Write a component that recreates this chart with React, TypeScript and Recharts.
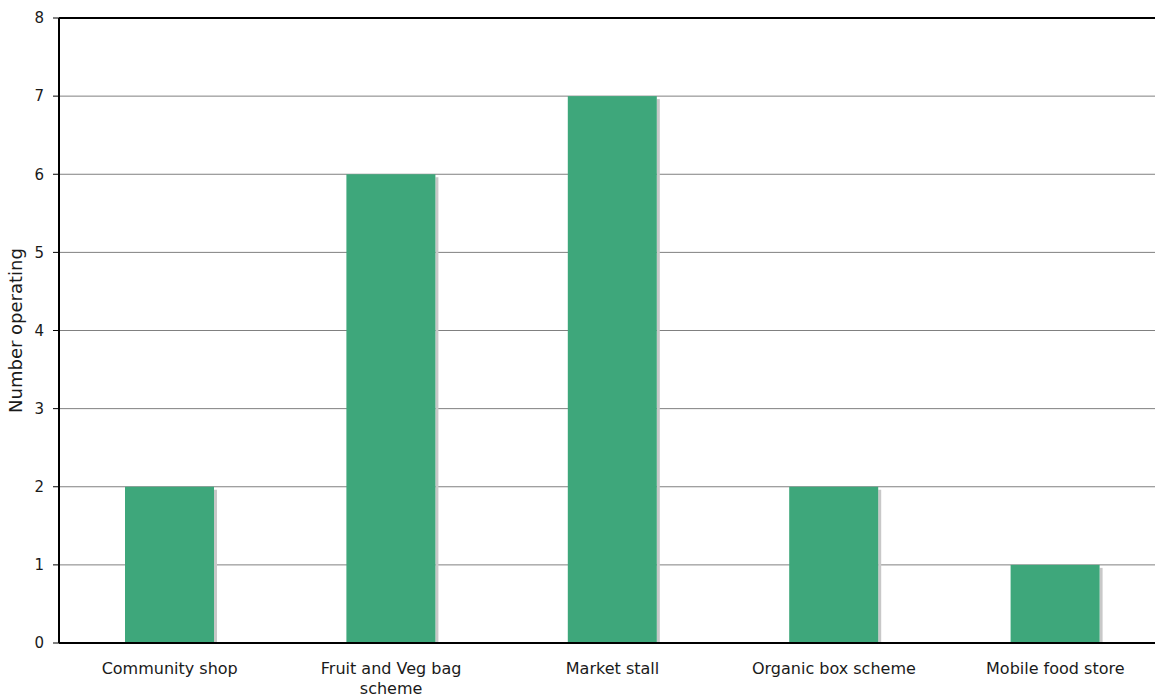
import { BarChart, Bar, XAxis, YAxis, CartesianGrid, ReferenceLine } from "recharts";

// Food access schemes and how many of each are running
const CATEGORIES = [
  "Community shop",
  "Fruit and Veg bag scheme",
  "Market stall",
  "Organic box scheme",
  "Mobile food store",
];
const OPERATING = [2, 6, 7, 2, 1];
const Y_TICKS = [0, 1, 2, 3, 4, 5, 6, 7, 8];
// boundaries between categories, used for the bottom tick marks
const BOUNDARY_TICKS = [0, 1, 2, 3, 4, 5];

const data = CATEGORIES.map((name, i) => ({ name, value: OPERATING[i] }));

const BAR_FILL = "#3ea77b";
const SHADOW_FILL = "#c8c8c8";
const FONT = "DejaVu Sans, Verdana, sans-serif";

// Bar with a thin drop shadow along its right edge
const ShadowBar = (props: any) => {
  const { x, y, width, height } = props;
  if (!height || height <= 0) return null;
  return (
    <g>
      <rect x={x + width} y={y + 3} width={3} height={Math.max(0, height - 3)} fill={SHADOW_FILL} />
      <rect x={x} y={y} width={width} height={height} fill={BAR_FILL} />
    </g>
  );
};

// Category label, wrapped onto a second line when it is too long
const CategoryTick = (props: any) => {
  const { x, y, payload } = props;
  const text: string = payload.value;
  let lines = [text];
  if (text.length > 20) {
    const cut = text.lastIndexOf(" ");
    lines = [text.slice(0, cut), text.slice(cut + 1)];
  }
  return (
    <text
      x={x}
      y={y + 23}
      textAnchor="middle"
      fill="#1a1a1a"
      style={{ fontFamily: FONT, fontSize: 16 }}
    >
      {lines.map((l, i) => (
        <tspan key={i} x={x} dy={i === 0 ? 0 : 20}>
          {l}
        </tspan>
      ))}
    </text>
  );
};

export default function App() {
  return (
    <div
      style={{
        position: "fixed",
        left: 0,
        top: 0,
        width: 1155,
        height: 694,
        overflow: "hidden",
        background: "#fff",
      }}
    >
      <BarChart
        width={1170}
        height={694}
        data={data}
        margin={{ top: 18, right: 4, left: 0, bottom: 0 }}
      >
        <CartesianGrid horizontal vertical={false} stroke="#808080" strokeWidth={1} />
        <XAxis
          xAxisId="marks"
          type="number"
          domain={[0, 5]}
          ticks={BOUNDARY_TICKS}
          height={0}
          axisLine={false}
          tickLine={{ stroke: "#000", strokeWidth: 1 }}
          tickSize={6}
          tick={false}
        />
        <XAxis
          dataKey="name"
          height={51}
          interval={0}
          axisLine={{ stroke: "#000", strokeWidth: 2 }}
          tickLine={false}
          tick={<CategoryTick />}
        />
        <YAxis
          width={59}
          domain={[0, 8]}
          ticks={Y_TICKS}
          interval={0}
          axisLine={{ stroke: "#000", strokeWidth: 2 }}
          tickLine={{ stroke: "#000", strokeWidth: 1 }}
          tickSize={6}
          tickMargin={9}
          tick={{ fill: "#1a1a1a", fontSize: 15, fontFamily: FONT }}
          label={{
            value: "Number operating",
            angle: -90,
            position: "insideLeft",
            offset: 16,
            style: {
              textAnchor: "middle",
              fill: "#1a1a1a",
              fontSize: 18,
              fontFamily: FONT,
            },
          }}
        />
        <ReferenceLine y={8} stroke="#000" strokeWidth={2} />
        <Bar dataKey="value" barSize={89} shape={<ShadowBar />} isAnimationActive={false} />
      </BarChart>
    </div>
  );
}
